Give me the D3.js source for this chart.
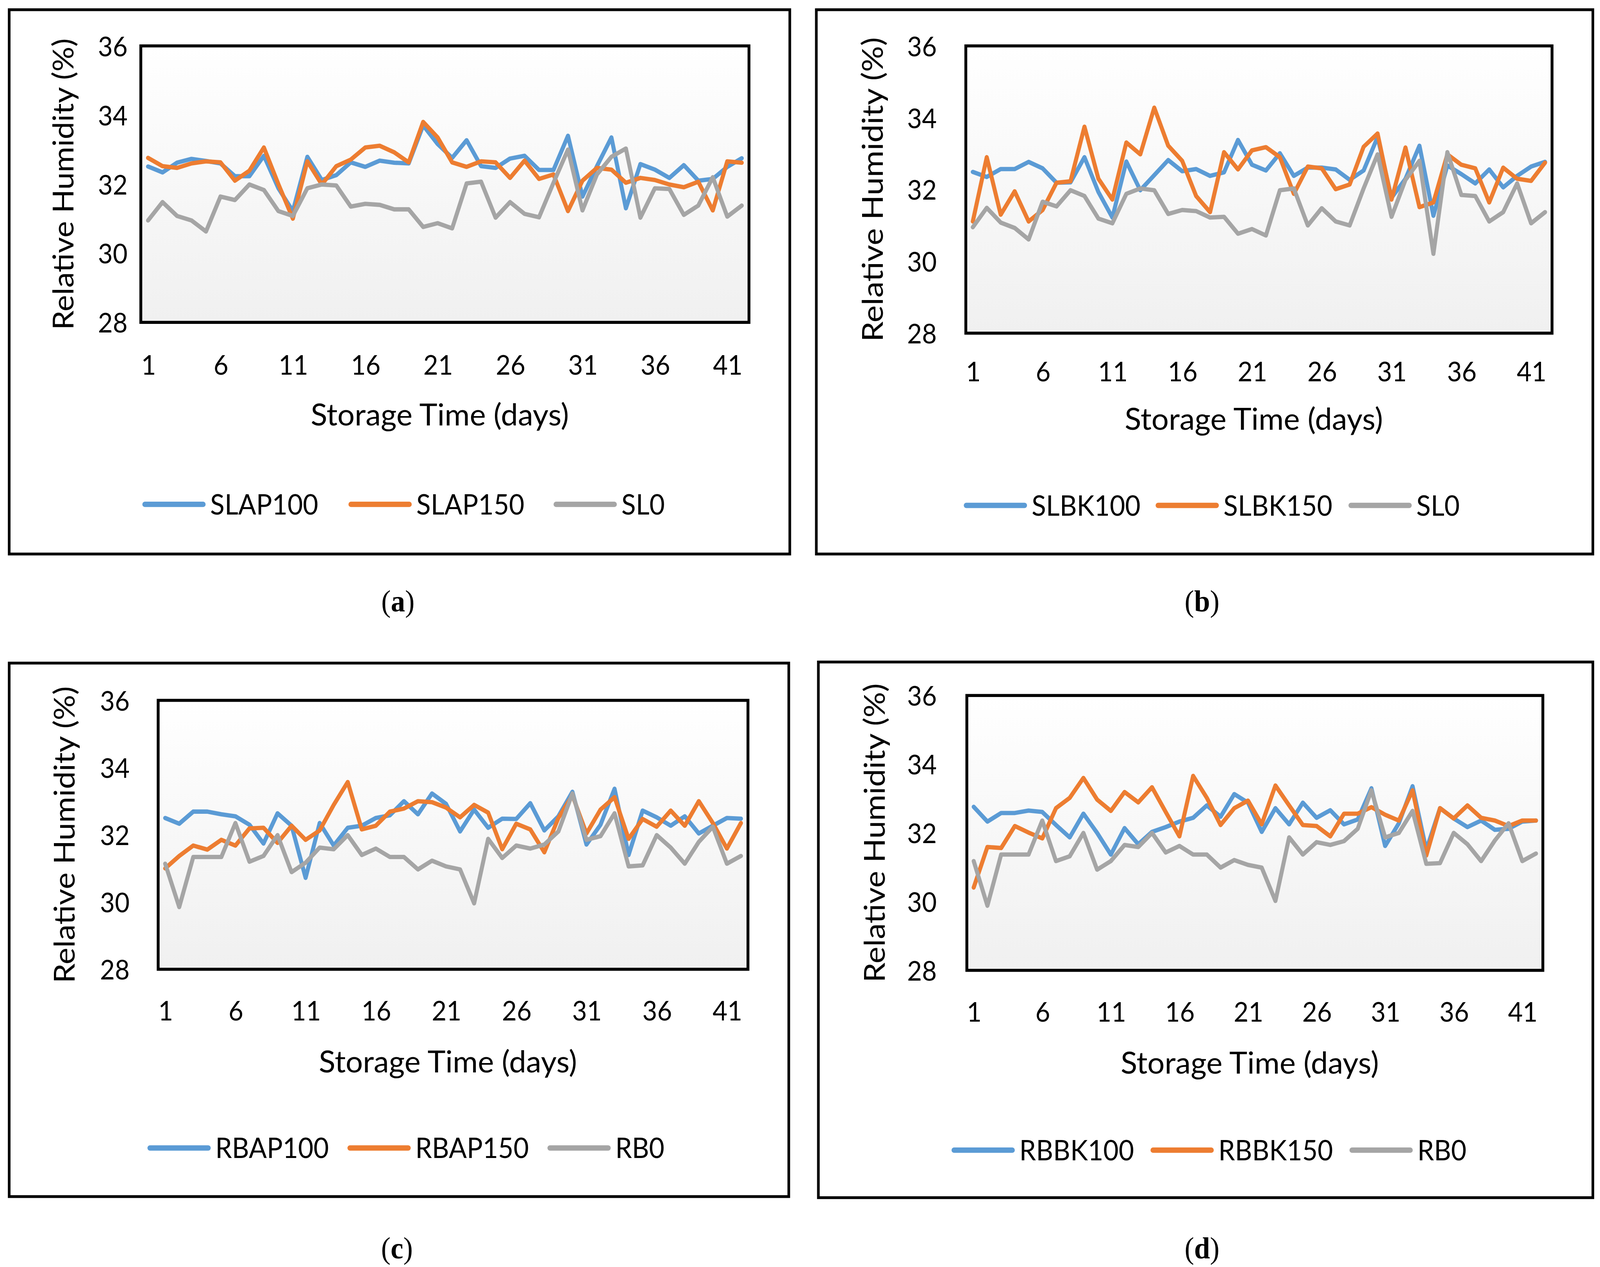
<!DOCTYPE html>
<meta charset="utf-8">
<script src="https://d3js.org/d3.v7.min.js"></script>
<style>
  html, body { margin: 0; padding: 0; background: #fff; overflow: hidden; }
  svg { display: block; }
</style>
<div id="chart"></div>
<script>

// storage days (categories) and tick labels
var days = [1,2,3,4,5,6,7,8,9,10,11,12,13,14,15,16,17,18,19,20,21,
            22,23,24,25,26,27,28,29,30,31,32,33,34,35,36,37,38,39,40,41,42];
var xTickDays = [1,6,11,16,21,26,31,36,41];
var yTicks = [28,30,32,34,36];

// (a)
var SLAP100 = [32.51,32.34,32.62,32.73,32.67,32.60,32.23,32.23,32.82,31.88,31.22,32.79,32.12,32.26,32.63,32.50,32.68,32.62,32.60,33.70,33.16,32.76,
               33.27,32.52,32.47,32.74,32.82,32.41,32.41,33.40,31.64,32.52,33.35,31.30,32.58,32.42,32.18,32.55,32.10,32.15,32.50,32.75];
var SLAP150 = [32.76,32.52,32.47,32.60,32.66,32.63,32.10,32.39,33.06,32.00,31.00,32.66,31.99,32.52,32.71,33.06,33.11,32.92,32.63,33.80,33.35,32.63,
               32.50,32.66,32.63,32.18,32.68,32.15,32.28,31.22,32.10,32.47,32.42,32.04,32.18,32.12,31.99,31.91,32.07,31.24,32.66,32.62];
var SL0_a   = [30.95,31.48,31.08,30.95,30.63,31.64,31.54,31.99,31.83,31.22,31.08,31.88,31.99,31.96,31.35,31.43,31.40,31.27,31.27,30.76,30.87,30.72,
               32.02,32.07,31.03,31.48,31.14,31.04,32.04,33.00,31.24,32.28,32.79,33.03,31.03,31.88,31.86,31.11,31.38,32.20,31.06,31.38];
// (b)
var SLBK100 = [32.49,32.35,32.57,32.57,32.77,32.59,32.19,32.20,32.90,31.93,31.22,32.78,31.98,32.40,32.82,32.51,32.57,32.38,32.48,33.38,32.69,32.53,
               33.01,32.38,32.61,32.61,32.56,32.27,32.53,33.46,31.77,32.30,33.22,31.27,32.67,32.43,32.17,32.56,32.06,32.38,32.64,32.77];
var SLBK150 = [31.11,32.90,31.30,31.95,31.11,31.43,32.19,32.23,33.75,32.30,31.72,33.31,32.98,34.28,33.22,32.80,31.82,31.37,33.04,32.56,33.09,33.18,
               32.90,31.88,32.64,32.59,32.01,32.14,33.19,33.56,31.72,33.17,31.51,31.64,32.98,32.69,32.59,31.64,32.61,32.30,32.24,32.75];
var SL0_b   = [30.95,31.49,31.08,30.93,30.61,31.66,31.53,31.98,31.82,31.19,31.06,31.88,32.03,31.98,31.32,31.43,31.40,31.22,31.24,30.77,30.90,30.72,
               31.98,32.03,31.00,31.48,31.11,31.00,32.03,32.98,31.24,32.27,32.80,30.21,33.04,31.85,31.82,31.11,31.37,32.17,31.06,31.37];
// (c)
var RBAP100 = [32.50,32.33,32.69,32.69,32.61,32.55,32.30,31.74,32.64,32.27,30.72,32.35,31.68,32.21,32.27,32.50,32.58,33.00,32.61,33.23,32.92,32.10,
               32.75,32.21,32.48,32.47,32.94,32.13,32.55,33.28,31.71,32.30,33.37,31.40,32.72,32.52,32.27,32.55,32.04,32.27,32.50,32.48];
var RBAP150 = [31.00,31.37,31.68,31.56,31.85,31.68,32.19,32.21,31.76,32.27,31.85,32.13,32.89,33.57,32.16,32.27,32.69,32.78,33.00,32.97,32.81,32.52,
               32.89,32.66,31.57,32.33,32.16,31.48,32.50,33.17,32.04,32.75,33.12,31.88,32.47,32.24,32.72,32.27,33.00,32.35,31.59,32.35];
var RB0_c   = [31.14,29.85,31.34,31.34,31.34,32.35,31.20,31.37,31.99,30.89,31.17,31.62,31.57,31.99,31.40,31.59,31.34,31.34,30.97,31.23,31.06,30.97,
               29.96,31.88,31.31,31.68,31.59,31.71,32.10,33.23,31.85,31.96,32.64,31.06,31.09,31.99,31.62,31.14,31.79,32.24,31.14,31.37];
// (d)
var RBBK100 = [32.76,32.33,32.58,32.58,32.65,32.61,32.23,31.87,32.56,32.00,31.37,32.14,31.67,32.03,32.17,32.33,32.44,32.80,32.47,33.13,32.88,32.03,
               32.72,32.25,32.88,32.44,32.66,32.25,32.39,33.30,31.62,32.28,33.36,31.51,32.72,32.42,32.17,32.36,32.09,32.12,32.33,32.36];
var RBBK150 = [30.41,31.59,31.56,32.20,32.01,31.84,32.72,33.02,33.60,32.97,32.64,33.19,32.89,33.33,32.61,31.90,33.66,33.02,32.23,32.72,32.94,32.25,
               33.38,32.80,32.23,32.20,31.90,32.56,32.56,32.75,32.53,32.36,33.24,31.34,32.72,32.42,32.80,32.44,32.36,32.20,32.36,32.36];
var RB0_d   = [31.18,29.88,31.37,31.37,31.37,32.36,31.18,31.32,32.00,30.93,31.18,31.65,31.59,32.00,31.43,31.62,31.37,31.37,30.99,31.21,31.07,30.99,
               30.02,31.87,31.37,31.73,31.65,31.76,32.12,33.24,31.87,32.00,32.64,31.10,31.12,32.00,31.67,31.18,31.78,32.28,31.18,31.40];

var colors = ["#5b9bd5", "#ed7d31", "#a5a5a5"];

// panel layout (viewBox units, picture is 1568 wide)
var panels = [
  {tag: "a", names: ["SLAP100","SLAP150","SL0"], series: [SLAP100, SLAP150, SL0_a],
   box: [9, 9, 774, 513], plot: [138, 42.5, 734, 298.5], yLab: 125, yTitleX: 62, yTitleLen: 270,
   xLabY: 338, xTitleY: 384, legY: 467, leg: [140, 342, 543], capX: 390, capY: 556},
  {tag: "b", names: ["SLBK100","SLBK150","SL0"], series: [SLBK100, SLBK150, SL0_b],
   box: [800, 9, 1561, 513], plot: [946.5, 42.5, 1521, 308.5], yLab: 918, yTitleX: 855, yTitleLen: 282,
   xLabY: 344, xTitleY: 388, legY: 468, leg: [945, 1133, 1322], capX: 1178, capY: 556},
  {tag: "c", names: ["RBAP100","RBAP150","RB0"], series: [RBAP100, RBAP150, RB0_c],
   box: [9, 614, 773, 1108], plot: [155, 648.5, 733, 897.5], yLab: 127, yTitleX: 63, yTitleLen: 275,
   xLabY: 936, xTitleY: 983, legY: 1063, leg: [145, 341, 537], capX: 389, capY: 1155},
  {tag: "d", names: ["RBBK100","RBBK150","RB0"], series: [RBBK100, RBBK150, RB0_d],
   box: [802, 613, 1561, 1109], plot: [947.5, 644, 1512, 898.5], yLab: 918, yTitleX: 857, yTitleLen: 277,
   xLabY: 937, xTitleY: 984, legY: 1065, leg: [933, 1128, 1323], capX: 1178, capY: 1155}
];

var font = "Lato, 'Open Sans', sans-serif";

// fill the whole window, whatever its size
var W = window.innerWidth || 4334,
    H = window.innerHeight || 3243;

var svg = d3.select("#chart")
  .append("svg")
    .attr("width", W)
    .attr("height", H)
    .attr("viewBox", "0 0 1568 1173.2")
    .attr("preserveAspectRatio", "none");

var defs = svg.append("defs");
var grad = defs.append("linearGradient")
  .attr("id", "plotfill")
  .attr("x1", 0).attr("y1", 0).attr("x2", 0).attr("y2", 1);
grad.append("stop").attr("offset", "0%").attr("stop-color", "#ffffff");
grad.append("stop").attr("offset", "100%").attr("stop-color", "#f0f0f0");

panels.forEach(function(p) {
  var w = p.plot[2] - p.plot[0],
      h = p.plot[3] - p.plot[1];

  // outer frame
  svg.append("rect")
    .attr("x", p.box[0]).attr("y", p.box[1])
    .attr("width", p.box[2] - p.box[0]).attr("height", p.box[3] - p.box[1])
    .attr("fill", "none").attr("stroke", "#000").attr("stroke-width", 2.6);

  var x = d3.scalePoint().domain(days).range([0, w]).padding(0.5);
  var y = d3.scaleLinear().domain([28, 36]).range([h, 0]);

  var g = svg.append("g")
    .attr("transform", "translate(" + p.plot[0] + "," + p.plot[1] + ")");

  g.append("rect")
    .attr("width", w).attr("height", h)
    .attr("fill", "url(#plotfill)");

  // lines
  p.series.forEach(function(vals, i) {
    g.append("path")
      .datum(vals)
      .attr("fill", "none")
      .attr("stroke", colors[i])
      .attr("stroke-width", 4)
      .attr("stroke-linejoin", "round")
      .attr("stroke-linecap", "round")
      .attr("d", d3.line()
        .x(function(d, j) { return x(days[j]); })
        .y(function(d) { return y(d); }));
  });

  g.append("rect")
    .attr("width", w).attr("height", h)
    .attr("fill", "none").attr("stroke", "#000").attr("stroke-width", 2.8);

  // y axis labels
  var ya = svg.append("g")
    .attr("transform", "translate(" + p.yLab + "," + p.plot[1] + ")")
    .call(d3.axisLeft(y).tickValues(yTicks).tickSize(0).tickPadding(0));
  ya.select(".domain").remove();
  ya.selectAll("text")
    .attr("font-family", font).attr("font-size", 25).attr("fill", "#000")
    .attr("dy", "0.36em");

  // x axis labels
  var xa = svg.append("g")
    .attr("transform", "translate(" + p.plot[0] + "," + p.xLabY + ")")
    .call(d3.axisBottom(x).tickValues(xTickDays).tickSize(0).tickPadding(0));
  xa.select(".domain").remove();
  xa.selectAll("text")
    .attr("font-family", font).attr("font-size", 25).attr("fill", "#000")
    .attr("dy", "0.36em");

  // axis titles
  svg.append("text")
    .attr("x", (p.plot[0] + p.plot[2]) / 2 - 5)
    .attr("y", p.xTitleY)
    .attr("dy", "0.36em")
    .attr("text-anchor", "middle")
    .attr("font-family", font).attr("font-size", 28)
    .attr("textLength", 253).attr("lengthAdjust", "spacingAndGlyphs")
    .text("Storage Time (days)");

  var yMid = (p.plot[1] + p.plot[3]) / 2;
  svg.append("text")
    .attr("transform", "translate(" + p.yTitleX + "," + yMid + ") rotate(-90)")
    .attr("dy", "0.36em")
    .attr("text-anchor", "middle")
    .attr("font-family", font).attr("font-size", 28)
    .attr("textLength", p.yTitleLen).attr("lengthAdjust", "spacingAndGlyphs")
    .text("Relative Humidity (%)");

  // legend
  p.names.forEach(function(name, i) {
    svg.append("line")
      .attr("x1", p.leg[i] + 2).attr("x2", p.leg[i] + 59)
      .attr("y1", p.legY).attr("y2", p.legY)
      .attr("stroke", colors[i]).attr("stroke-width", 5)
      .attr("stroke-linecap", "round");
    svg.append("text")
      .attr("x", p.leg[i] + 66).attr("y", p.legY)
      .attr("dy", "0.36em")
      .attr("font-family", font).attr("font-size", 26)
      .text(name);
  });

  // caption
  var cap = svg.append("text")
    .attr("x", p.capX).attr("y", p.capY)
    .attr("dy", "0.36em")
    .attr("text-anchor", "middle")
    .attr("font-family", "'Liberation Serif', 'DejaVu Serif', serif")
    .attr("font-size", 28);
  cap.append("tspan").text("(");
  cap.append("tspan").attr("font-weight", "bold").text(p.tag);
  cap.append("tspan").text(")");
});

</script>
